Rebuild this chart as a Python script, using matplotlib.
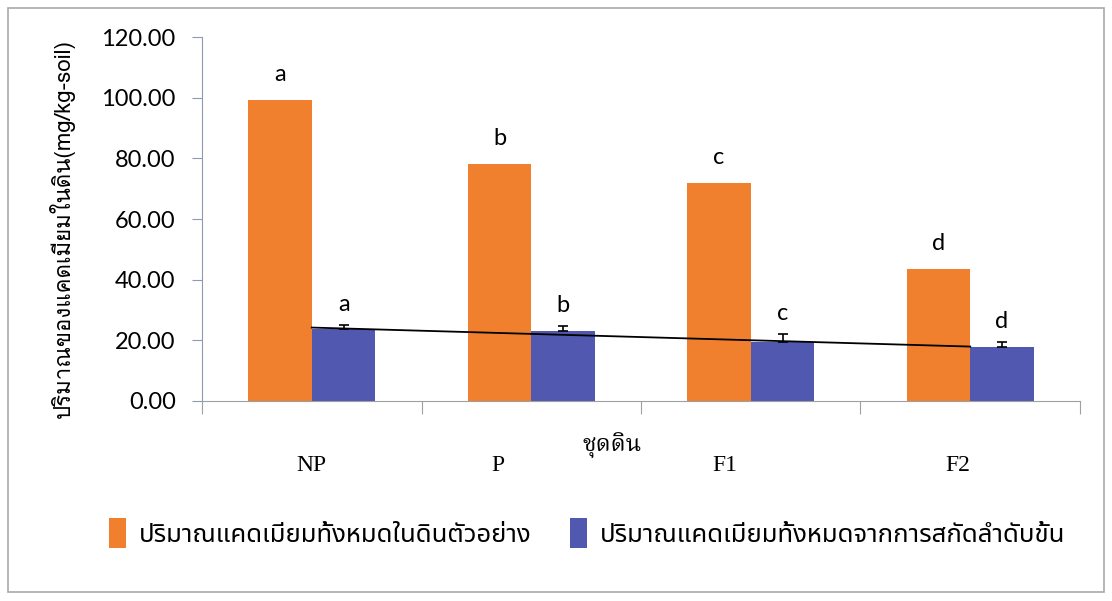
import numpy as np
import matplotlib.pyplot as plt
from matplotlib import font_manager
from matplotlib.patches import Rectangle

# data
soil_series = ['NP', 'P', 'F1', 'F2']
total_cd = [99.2, 78.0, 71.8, 43.4]
fraction_cd = [23.7, 23.1, 19.6, 17.9]
fraction_err = [1.4, 1.6, 2.5, 1.7]
letters_total = ['a', 'b', 'c', 'd']
letters_fraction = ['a', 'b', 'c', 'd']
ylabel = 'ปริมาณของแคดเมียมในดิน(mg/kg-soil)'
xlabel = 'ชุดดิน'
legend_labels = ['ปริมาณแคดเมียมทั้งหมดในดินตัวอย่าง',
                 'ปริมาณแคดเมียมทั้งหมดจากการสกัดลำดับขั้น']


def thai_fam(*names):
    # keep only installed families, fall back to DejaVu Sans
    have = {f.name for f in font_manager.fontManager.ttflist}
    return [n for n in names if n in have] + ['DejaVu Sans']


looped = thai_fam('Loma', 'Noto Sans Thai Looped', 'Noto Sans Thai')
serif_thai = thai_fam('Noto Serif Thai', 'Taviraj', 'Loma')
loopless = thai_fam('Noto Sans Thai', 'Noto Sans Thai UI', 'Loma')

orange = '#F0802E'
blue = '#5058B0'

fig = plt.figure(figsize=(11.12, 6.01), dpi=100)
ax = fig.add_axes([0.1817, 0.3328, 0.7895, 0.6056])

x = np.arange(len(soil_series)) + 0.5
w = 0.29
ax.bar(x - w/2, total_cd, w, color=orange, label=legend_labels[0])
ax.bar(x + w/2, fraction_cd, w, color=blue, label=legend_labels[1],
       yerr=[np.zeros(len(fraction_err)), fraction_err], capsize=3.5,
       error_kw=dict(ecolor='black', elinewidth=1.2, capthick=1.2))

# linear trend of the second series
coef = np.polyfit(np.arange(len(fraction_cd)), fraction_cd, 1)
xt = np.array([x[0], x[-1]])
ax.plot(xt, np.polyval(coef, xt - 0.5), color='black', lw=1.3)

for xi, v, t in zip(x, total_cd, letters_total):
    ax.annotate(t, (xi - w/2, v), xytext=(0, 11), textcoords='offset points',
                ha='center', va='bottom', fontsize=17, family='Lato')
for xi, v, e, t in zip(x, fraction_cd, fraction_err, letters_fraction):
    ax.annotate(t, (xi + w/2, v + e), xytext=(0, 7), textcoords='offset points',
                ha='center', va='bottom', fontsize=17, family='Lato')

ax.set_xlim(0, 4)
ax.set_ylim(0, 120)
ax.set_yticks(np.arange(0, 121, 20))
ax.set_yticklabels(['%.2f' % v for v in np.arange(0, 121, 20)], family='Lato', fontsize=17)
ax.set_xticks(np.arange(0, 5))
ax.set_xticklabels([])
ax.tick_params(axis='y', length=7, color='#8E9AB0', pad=12)
ax.tick_params(axis='x', length=9, color='#A0A0A0')
for s in ['top', 'right']:
    ax.spines[s].set_visible(False)
ax.spines['left'].set_color('#8E9AB0')
ax.spines['bottom'].set_color('#A0A0A0')

label_shift = [0.0, -0.15, -0.12, -0.055]
for xi, name, d in zip(x, soil_series, label_shift):
    ax.text(xi + d, -0.176, name, transform=ax.get_xaxis_transform(),
            ha='center', va='center', fontsize=17, family='Liberation Serif')
ax.text(1.87, -0.125, xlabel, transform=ax.get_xaxis_transform(),
        ha='center', va='center', fontsize=17, family=serif_thai)

fig.text(0.056, 0.62, ylabel, rotation=90, ha='center', va='center',
         fontsize=16, family=looped)

fig.legend(loc='center', bbox_to_anchor=(0.528, 0.113), ncol=2, frameon=False,
           prop=dict(family=loopless, size=18.5), handlelength=0.65,
           handleheight=1.4, columnspacing=1.5, handletextpad=0.5)

fig.patches.append(Rectangle((0.0072, 0.015), 0.9856, 0.9717, transform=fig.transFigure,
                             fill=False, edgecolor='#AAAAAA', lw=1.2))

fig.savefig('out.png', dpi=100)
